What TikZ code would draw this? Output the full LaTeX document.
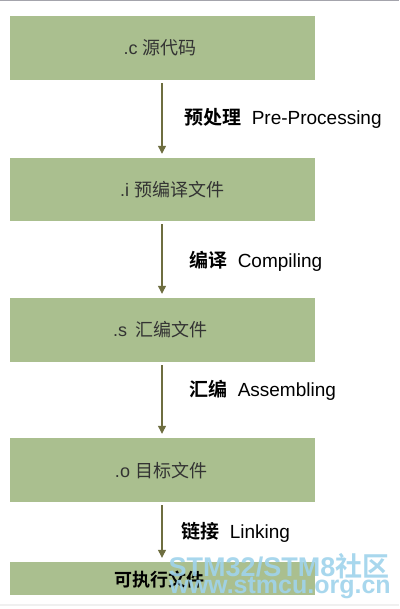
\documentclass[tikz,border=0pt]{standalone}
\usepackage{fontspec}
\setmainfont{Liberation Sans}
\newfontfamily\cjk{Noto Sans CJK SC}
\newfontfamily\cjkb{Noto Sans CJK SC}[BoldFont={* Bold}]
\usetikzlibrary{arrows.meta}
\definecolor{boxgreen}{HTML}{AABF8F}
\definecolor{arrowolive}{HTML}{6E6E40}
\definecolor{topgray}{HTML}{A4A4AC}
\definecolor{wmblue}{HTML}{9FD3EC}
\tikzset{
  x=1pt,y=1pt,
  stagebox/.style={fill=boxgreen,draw=none,minimum width=305pt,minimum height=64pt,inner sep=0pt},
  boxtext/.style={font=\fontsize{18}{20}\selectfont,text=black!80,inner sep=0pt},
  steplabel/.style={font=\fontsize{19}{22}\selectfont,anchor=west,inner sep=0pt},
  flowarrow/.style={draw=arrowolive,line width=1.2pt,-{Triangle[width=8pt,length=8pt]},shorten <=3pt,shorten >=4pt},
  watermark/.style={text=wmblue,opacity=0.9,inner sep=0pt}
}
\begin{document}
\begin{tikzpicture}
\useasboundingbox (0,0) rectangle (399,-609);
\fill[white] (0,0) rectangle (399,-609);
\fill[topgray] (0,0) rectangle (399,-1.5);
\fill[black!6] (0,-604) rectangle (399,-606);
% boxes
\node[stagebox] (b1) at (162.5,-48) {};
\node[stagebox,minimum height=63pt] (b2) at (162.5,-189.5) {};
\node[stagebox] (b3) at (162.5,-330) {};
\node[stagebox] (b4) at (162.5,-470) {};
\node[stagebox,minimum height=33pt] (b5) at (162.5,-578.5) {};
% box texts
\node[boxtext] (t1) at (160,-48) {.c {\cjk 源代码}};
\node[boxtext] (t2) at (172,-190) {.i {\cjk 预编译文件}};
\node[boxtext] (t3) at (160,-330) {.s \,{\cjk 汇编文件}};
\node[boxtext] (t4) at (161,-471) {.o {\cjk 目标文件}};
\node[font=\fontsize{18}{20}\selectfont\cjkb\bfseries,inner sep=0pt] (t5) at (159,-580) {可执行文件};
% arrows
\draw[flowarrow] (b1.south -| 162,0) -- (b2.north -| 162,0);
\draw[flowarrow] (b2.south -| 162,0) -- (b3.north -| 162,0);
\draw[flowarrow] (b3.south -| 162,0) -- (b4.north -| 162,0);
\draw[flowarrow] (b4.south -| 162,0) -- (b5.north -| 162,0);
% labels
\node[steplabel] (l1) at (184,-118) {{\cjkb\bfseries 预处理}\ \ Pre-Processing};
\node[steplabel] (l2) at (189,-261) {{\cjkb\bfseries 编译}\ \ Compiling};
\node[steplabel] (l3) at (189,-390) {{\cjkb\bfseries 汇编}\ \ Assembling};
\node[steplabel] (l4) at (181,-532) {{\cjkb\bfseries 链接}\ \ Linking};
% watermark (drawn over the picture, as in the reference)
\node[watermark,font=\fontsize{27}{28}\selectfont\bfseries] (w1) at (279,-566) {STM32/STM8{\cjkb\bfseries 社区}};
\node[watermark,font=\fontsize{25}{26}\selectfont\bfseries] (w2) at (280,-588) {www.stmcu.org.cn};
\end{tikzpicture}
\end{document}
